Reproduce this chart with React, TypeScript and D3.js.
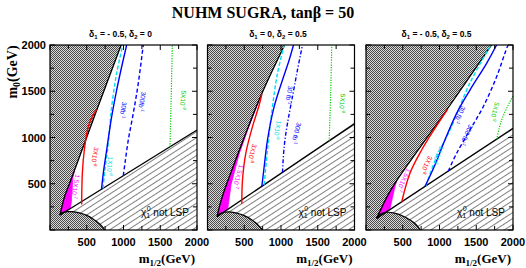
import React from "react";
import * as d3 from "d3";

type Pt = [number, number];

// axes
const tickValues = [0, 250, 500, 750, 1000, 1250, 1500, 1750, 2000];
const xTickLabels = [500, 1000, 1500, 2000];
const yTickLabels = [500, 1000, 1500, 2000];

// panel headers
const delta1 = ["- 0.5", "0", "- 0.5"];
const delta2 = ["0", "0.5", "0.5"];

// panel 1 : d1 = -0.5, d2 = 0   (points are [m1/2, m0] in GeV)
const p1Boundary: Pt[] = [[136, 162], [165, 262], [200, 365], [249, 468], [430, 853], [635, 1295], [968, 2000]];
const p1Line: Pt[] = [[136, 162], [2000, 1081]];
const p1Arc: Pt[] = [[136, 162], [165, 185], [230, 198], [300, 198], [400, 185], [500, 158], [600, 112], [680, 62], [748, 0]];
const p1Magenta: Pt[] = [[136, 162], [165, 262], [200, 365], [249, 468], [335, 650], [310, 560], [300, 430], [290, 300], [275, 231]];
const p1Red: Pt[] = [[431, 275], [440, 613], [467, 865], [521, 1117], [590, 1250], [635, 1300]];
const p1Cyan: Pt[] = [[722, 450], [745, 640], [793, 937], [839, 1333], [907, 1694], [990, 2000]];
const p1Blue: Pt[] = [[700, 435], [725, 613], [771, 865], [839, 1225], [907, 1513], [975, 1765], [1043, 2000]];
const p1Blue300: Pt[] = [[997, 586], [1020, 721], [1065, 973], [1133, 1261], [1201, 1586], [1269, 2000]];
const p1Green: Pt[] = [[1632, 900], [1646, 1333], [1664, 2000]];

// panel 2 : d1 = 0, d2 = 0.5
const p2Boundary: Pt[] = [[130, 145], [175, 290], [230, 430], [281, 540], [486, 973], [725, 1449], [1050, 2000]];
const p2Line: Pt[] = [[130, 145], [2000, 1150]];
const p2Arc: Pt[] = [[130, 145], [160, 172], [230, 192], [300, 195], [400, 182], [500, 155], [600, 110], [680, 60], [748, 0]];
const p2Magenta: Pt[] = [[130, 145], [175, 290], [230, 430], [281, 540], [486, 973], [700, 1400], [660, 1320], [560, 1110], [430, 820], [320, 490], [275, 223]];
const p2Red: Pt[] = [[467, 285], [476, 540], [521, 829], [612, 1117], [703, 1351], [740, 1470]];
const p2Cyan: Pt[] = [[771, 489], [816, 865], [884, 1333], [952, 1694], [1043, 2000]];
const p2Blue: Pt[] = [[739, 472], [771, 684], [816, 973], [907, 1333], [1020, 1621], [1111, 1838], [1170, 2000]];
const p2Blue300: Pt[] = [[1020, 623], [1043, 901], [1088, 1153], [1156, 1441], [1224, 1730], [1292, 2000]];
const p2Green: Pt[] = [[1655, 964], [1677, 1513], [1691, 2000]];

// panel 3 : d1 = -0.5, d2 = 0.5
const p3Boundary: Pt[] = [[145, 126], [200, 220], [300, 380], [440, 560], [1100, 1300], [1709, 2000]];
const p3Line: Pt[] = [[145, 126], [2000, 1099]];
const p3Arc: Pt[] = [[145, 126], [175, 160], [230, 183], [300, 192], [400, 180], [500, 152], [600, 108], [680, 60], [740, 0]];
const p3Magenta: Pt[] = [[145, 126], [200, 220], [300, 380], [420, 535], [395, 470], [360, 350], [335, 260], [320, 218]];
const p3Red: Pt[] = [[485, 300], [598, 613], [757, 865], [938, 1099], [1110, 1305]];
const p3Cyan: Pt[] = [[816, 478], [961, 793], [1142, 1081], [1414, 1590], [1700, 2000]];
const p3Blue: Pt[] = [[802, 470], [938, 703], [1074, 973], [1233, 1261], [1414, 1513], [1641, 1802], [1777, 2000]];
const p3Blue300: Pt[] = [[1120, 637], [1233, 829], [1414, 1081], [1595, 1333], [1777, 1657], [1914, 1964], [1935, 2000]];
const p3Green: Pt[] = [[1777, 982], [1845, 1189], [1958, 1387], [2000, 1450]];

// contour annotations: text, exponent, colour, anchor [m1/2, m0], angle
type Note = { t: string; e: string; c: string; at: Pt; r: number };
const p1Notes: Note[] = [
  { t: "1.5X10", e: "-7", c: "#ff00ff", at: [350, 470], r: 100 },
  { t: "3X10", e: "-8", c: "#ff0000", at: [612, 793], r: 100 },
  { t: "1X10", e: "-8", c: "#00d8e8", at: [815, 690], r: 95 },
  { t: "30fb", e: "-1", c: "#0000ff", at: [997, 1297], r: 100 },
  { t: "300fb", e: "-1", c: "#0000ff", at: [1255, 1387], r: 100 },
  { t: "5X10", e: "-9", c: "#00cc00", at: [1813, 1405], r: 95 },
];
const p2Notes: Note[] = [
  { t: "1.5X10", e: "-7", c: "#ff00ff", at: [420, 576], r: 105 },
  { t: "3X10", e: "-8", c: "#ff0000", at: [612, 829], r: 105 },
  { t: "1X10", e: "-8", c: "#00d8e8", at: [952, 1081], r: 100 },
  { t: "30 fb", e: "-1", c: "#0000ff", at: [1111, 1459], r: 100 },
  { t: "300 fb", e: "-1", c: "#0000ff", at: [1210, 1045], r: 105 },
  { t: "5X10", e: "-9", c: "#00cc00", at: [1836, 1369], r: 95 },
];
const p3Notes: Note[] = [
  { t: "1.5X10", e: "-7", c: "#ff00ff", at: [517, 540], r: 115 },
  { t: "3X10", e: "-8", c: "#ff0000", at: [825, 703], r: 115 },
  { t: "1X10", e: "-8", c: "#00d8e8", at: [983, 811], r: 115 },
  { t: "30 fb", e: "-1", c: "#0000ff", at: [1278, 1243], r: 115 },
  { t: "300 fb", e: "-1", c: "#0000ff", at: [1369, 1027], r: 115 },
  { t: "5X10", e: "-9", c: "#00cc00", at: [1754, 1279], r: 105 },
];

const panels = [
  { boundary: p1Boundary, line: p1Line, arc: p1Arc, magenta: p1Magenta, red: p1Red, cyan: p1Cyan, blue: p1Blue, blue300: p1Blue300, green: p1Green, notes: p1Notes, dash300: "4,2.5" },
  { boundary: p2Boundary, line: p2Line, arc: p2Arc, magenta: p2Magenta, red: p2Red, cyan: p2Cyan, blue: p2Blue, blue300: p2Blue300, green: p2Green, notes: p2Notes, dash300: "4,2,1.2,2" },
  { boundary: p3Boundary, line: p3Line, arc: p3Arc, magenta: p3Magenta, red: p3Red, cyan: p3Cyan, blue: p3Blue, blue300: p3Blue300, green: p3Green, notes: p3Notes, dash300: "4,2.5" },
];

const TOP = 45;
const BOTTOM = 230;
const LEFTS = [50, 207.5, 366];
const PW = 147;
const sans = "'Liberation Sans', Arial, sans-serif";
const serif = "'Liberation Serif', 'Times New Roman', serif";

function Panel({ i }: { i: number }) {
  const p = panels[i];
  const x = d3.scaleLinear().domain([0, 2000]).range([LEFTS[i], LEFTS[i] + PW]);
  const y = d3.scaleLinear().domain([0, 2000]).range([BOTTOM, TOP]);
  const smooth = d3.line<Pt>().x((d) => x(d[0])).y((d) => y(d[1])).curve(d3.curveCatmullRom.alpha(0.5));
  const straight = d3.line<Pt>().x((d) => x(d[0])).y((d) => y(d[1]));
  const cont = (path: string | null) => (path || "").replace(/^M/, "L");

  const b = p.boundary;
  const grayPath =
    `M${x(0)},${y(0)}L${x(0)},${y(2000)}` +
    cont(smooth([...b].reverse())) +
    cont(smooth(p.arc)) +
    "Z";
  const lineEnd = p.line[p.line.length - 1];
  const hatchPath = straight([p.line[0], lineEnd, [2000, 0], [0, 0]]) + "Z";
  const magentaPath = straight(p.magenta) + "Z";
  const clipId = `clip${i}`;

  return (
    <g>
      <defs>
        <clipPath id={clipId}>
          <rect x={LEFTS[i]} y={TOP} width={PW} height={BOTTOM - TOP} />
        </clipPath>
      </defs>
      <g clipPath={`url(#${clipId})`}>
        <rect x={LEFTS[i]} y={TOP} width={PW} height={BOTTOM - TOP} fill="#fff" />
        <path d={hatchPath} fill="url(#hatch)" />
        <path d={grayPath} fill="url(#checker)" />
        <path d={magentaPath} fill="#ff00ff" stroke="#ff00ff" strokeWidth={0.8} />
        <path d={smooth(b) || ""} fill="none" stroke="#000" strokeWidth={1.3} />
        <path d={straight(p.line) || ""} fill="none" stroke="#000" strokeWidth={1.3} />
        <path d={smooth(p.arc) || ""} fill="none" stroke="#000" strokeWidth={1.2} />
        <path d={smooth(p.red) || ""} fill="none" stroke="#ff0000" strokeWidth={1.4} />
        <path d={smooth(p.cyan) || ""} fill="none" stroke="#00e0f0" strokeWidth={1.4} strokeDasharray="4,2" />
        <path d={smooth(p.blue) || ""} fill="none" stroke="#0000ff" strokeWidth={1.4} />
        <path d={smooth(p.blue300) || ""} fill="none" stroke="#0000ff" strokeWidth={1.4} strokeDasharray={p.dash300} />
        <path d={smooth(p.green) || ""} fill="none" stroke="#00cc00" strokeWidth={1.2} strokeDasharray="1.2,1.3" />
        {p.notes.map((n, k) => (
          <text
            key={k}
            transform={`translate(${x(n.at[0])},${y(n.at[1])}) rotate(${n.r})`}
            textAnchor="middle"
            dominantBaseline="central"
            fontFamily={sans}
            fontSize={6.5}
            fill={n.c}
          >
            {n.t}
            <tspan dy={-2.5} fontSize={4.5}>{n.e}</tspan>
          </text>
        ))}
        <text x={x(1564)} y={y(150)} textAnchor="middle" fontFamily={sans} fontSize={10} fill="#000">
          χ<tspan dy={2} fontSize={7}>1</tspan>
          <tspan dx={-3.5} dy={-7} fontSize={7}>0</tspan>
          <tspan dy={5}> not LSP</tspan>
        </text>
      </g>
      {tickValues.map((v) => {
        const len = v % 500 === 0 ? 5 : 4;
        return (
          <g key={v} stroke="#000" strokeWidth={1}>
            <line x1={x(v)} x2={x(v)} y1={BOTTOM} y2={BOTTOM - len} />
            <line x1={x(v)} x2={x(v)} y1={TOP} y2={TOP + len} />
            <line x1={LEFTS[i]} x2={LEFTS[i] + len} y1={y(v)} y2={y(v)} />
            <line x1={LEFTS[i] + PW} x2={LEFTS[i] + PW - len} y1={y(v)} y2={y(v)} />
          </g>
        );
      })}
      <rect x={LEFTS[i]} y={TOP} width={PW} height={BOTTOM - TOP} fill="none" stroke="#000" strokeWidth={1.2} />
      {xTickLabels.map((v) => (
        <text key={v} x={x(v)} y={246} textAnchor="middle" fontFamily={sans} fontWeight="bold" fontSize={11}>
          {v}
        </text>
      ))}
      {i === 0 &&
        yTickLabels.map((v) => (
          <text key={v} x={46} y={y(v)} textAnchor="end" dominantBaseline="central" fontFamily={sans} fontWeight="bold" fontSize={11}>
            {v}
          </text>
        ))}
      <text x={LEFTS[i] + PW / 2 - 3} y={37} textAnchor="middle" fontFamily={sans} fontWeight="bold" fontSize={8.5}>
        δ<tspan dy={2} fontSize={6}>1</tspan>
        <tspan dy={-2}>{` = ${delta1[i]}, δ`}</tspan>
        <tspan dy={2} fontSize={6}>2</tspan>
        <tspan dy={-2}>{` = ${delta2[i]}`}</tspan>
      </text>
      <text x={LEFTS[i] + PW - 2} y={263} textAnchor="end" fontFamily={serif} fontWeight="bold" fontSize={13}>
        m<tspan dy={3} fontSize={9}>1/2</tspan>
        <tspan dy={-3}>(GeV)</tspan>
      </text>
    </g>
  );
}

export default function App() {
  return (
    <svg width={526} height={268} style={{ position: "absolute", left: 0, top: 0 }}>
      <defs>
        <pattern id="checker" width={2} height={2} patternUnits="userSpaceOnUse">
          <rect width={2} height={2} fill="#dadada" />
          <rect width={1} height={1} fill="#4a4a4a" />
          <rect x={1} y={1} width={1} height={1} fill="#4a4a4a" />
        </pattern>
        <pattern id="hatch" width={5} height={5} patternUnits="userSpaceOnUse" patternTransform="rotate(-33)">
          <rect width={5} height={5} fill="#fff" />
          <line x1={0} x2={5} y1={2.5} y2={2.5} stroke="#555" strokeWidth={0.75} />
        </pattern>
      </defs>
      <rect width={526} height={268} fill="#fff" />
      <text x={263} y={18} textAnchor="middle" fontFamily={serif} fontWeight="bold" fontSize={16}>
        NUHM SUGRA, tanβ = 50
      </text>
      <text transform="translate(17,72) rotate(-90)" textAnchor="middle" fontFamily={serif} fontWeight="bold" fontSize={14}>
        m<tspan dy={3} fontSize={10}>0</tspan>
        <tspan dy={-3}>(GeV)</tspan>
      </text>
      {[0, 1, 2].map((i) => (
        <Panel key={i} i={i} />
      ))}
    </svg>
  );
}
